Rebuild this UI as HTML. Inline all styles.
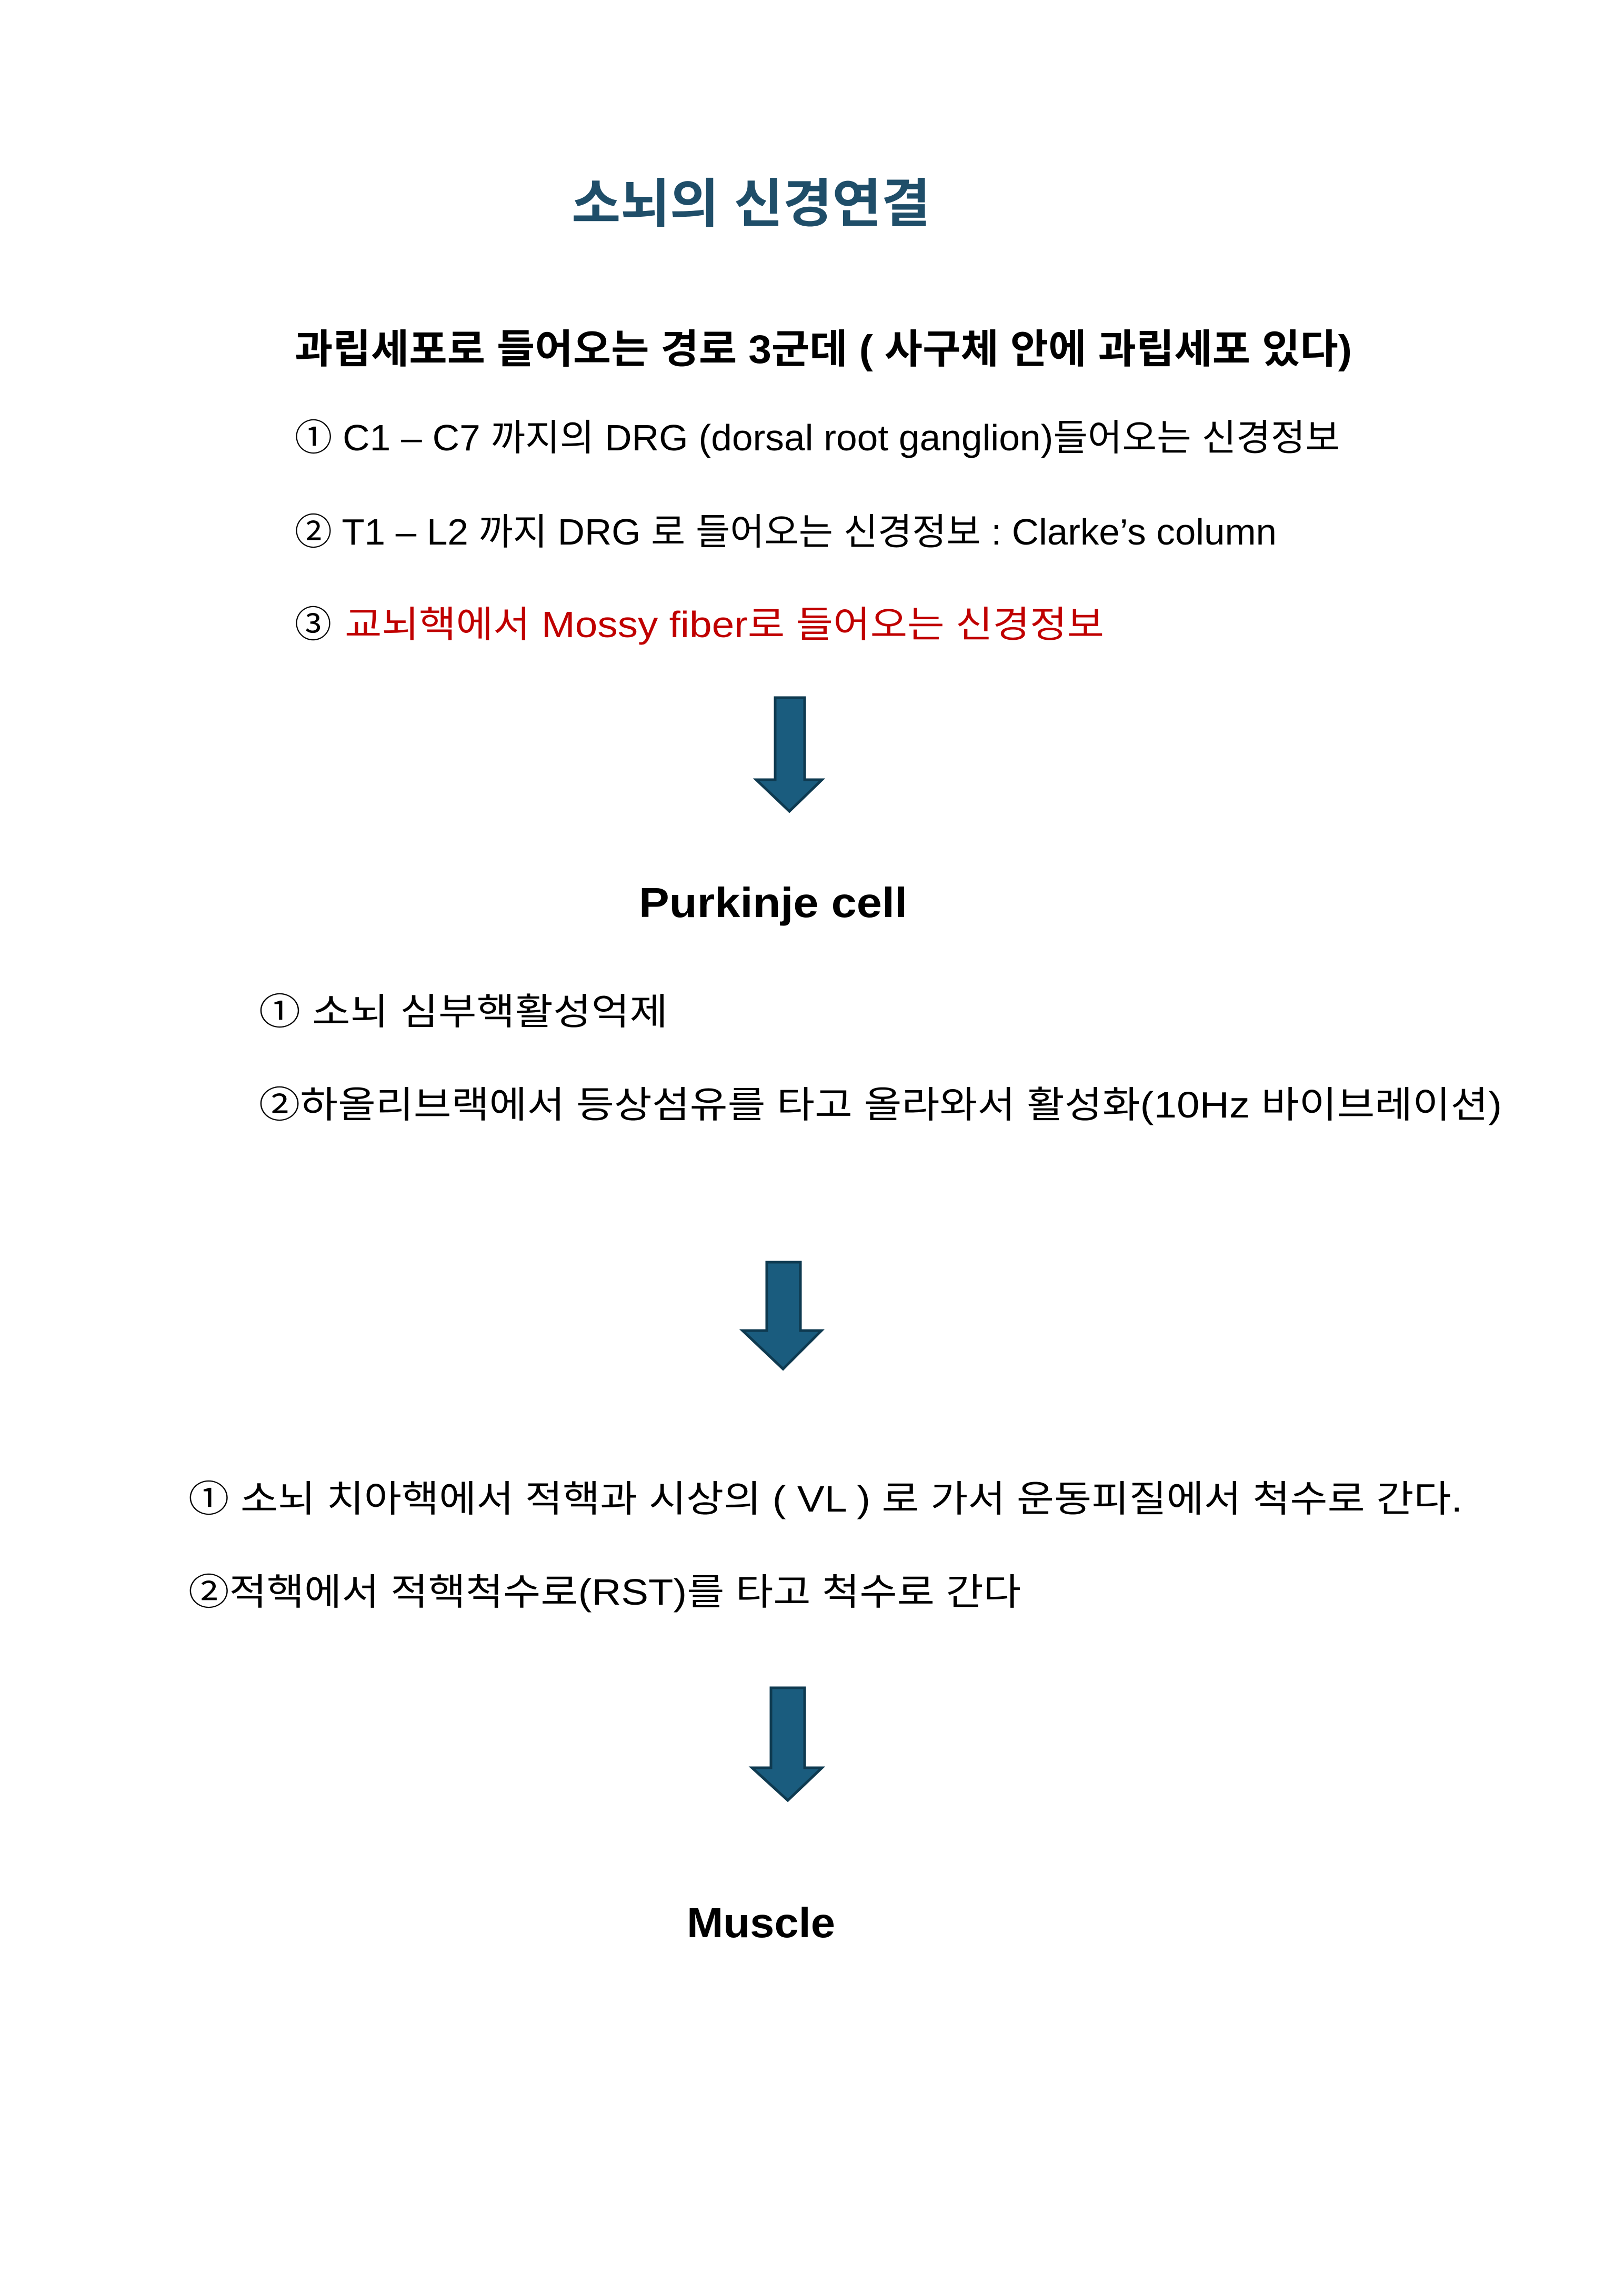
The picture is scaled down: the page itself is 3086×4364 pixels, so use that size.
<!DOCTYPE html>
<html><head><meta charset="utf-8"><style>
html,body{margin:0;padding:0;background:#fff}
svg{display:block}
text{font-family:"Liberation Sans","Noto Sans CJK KR",sans-serif}
</style></head><body>
<svg width="3086" height="4364" viewBox="0 0 3086 4364" xmlns="http://www.w3.org/2000/svg">
<rect width="3086" height="4364" fill="#fff"/>
<text x="1086" y="422" font-size="100" font-weight="bold" fill="#1f4e69" textLength="682" lengthAdjust="spacingAndGlyphs">소뇌의 신경연결</text>
<text x="560" y="690" font-size="76" font-weight="bold" fill="#000" textLength="2009" lengthAdjust="spacingAndGlyphs">과립세포로 들어오는 경로 3군데 ( 사구체 안에 과립세포 있다)</text>
<text x="560" y="856" font-size="70" fill="#000" textLength="1986" lengthAdjust="spacingAndGlyphs">① C1 – C7 까지의 DRG (dorsal root ganglion)들어오는 신경정보</text>
<text x="560" y="1035" font-size="70" fill="#000" textLength="1866" lengthAdjust="spacingAndGlyphs">② T1 – L2 까지 DRG 로 들어오는 신경정보 : Clarke’s column</text>
<text x="560" y="1211" font-size="70" fill="#000">③</text>
<text x="655" y="1211" font-size="70" fill="#c00000" textLength="1443" lengthAdjust="spacingAndGlyphs">교뇌핵에서 Mossy fiber로 들어오는 신경정보</text>
<polygon points="1473,1326 1529,1326 1529,1482 1562,1482 1500,1542 1437,1482 1473,1482" fill="#1a5c7e" stroke="#0e3a50" stroke-width="5"/>
<text x="1469" y="1743" font-size="80" font-weight="bold" fill="#000" text-anchor="middle" textLength="510" lengthAdjust="spacingAndGlyphs">Purkinje cell</text>
<text x="492" y="1947" font-size="70" fill="#000" textLength="777" lengthAdjust="spacingAndGlyphs">① 소뇌 심부핵활성억제</text>
<text x="492" y="2124" font-size="70" fill="#000" textLength="2362" lengthAdjust="spacingAndGlyphs">②하올리브랙에서 등상섬유를 타고 올라와서 활성화(10Hz 바이브레이션)</text>
<polygon points="1457,2399 1521,2399 1521,2529 1561,2529 1488,2602 1411,2529 1457,2529" fill="#1a5c7e" stroke="#0e3a50" stroke-width="5"/>
<text x="358" y="2873" font-size="70" fill="#000" textLength="2421" lengthAdjust="spacingAndGlyphs">① 소뇌 치아핵에서 적핵과 시상의 ( VL ) 로 가서 운동피질에서 척수로 간다.</text>
<text x="358" y="3050" font-size="70" fill="#000" textLength="1582" lengthAdjust="spacingAndGlyphs">②적핵에서 적핵척수로(RST)를 타고  척수로 간다</text>
<polygon points="1465,3208 1529,3208 1529,3360 1562,3360 1497,3422 1429,3360 1465,3360" fill="#1a5c7e" stroke="#0e3a50" stroke-width="5"/>
<text x="1446" y="3682" font-size="80" font-weight="bold" fill="#000" text-anchor="middle" textLength="282" lengthAdjust="spacingAndGlyphs">Muscle</text>
</svg>
</body></html>
